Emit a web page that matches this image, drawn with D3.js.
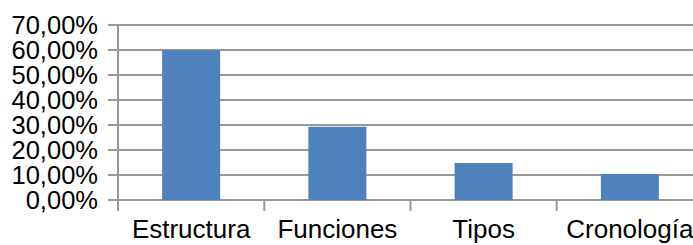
<!DOCTYPE html>
<html><head><meta charset="utf-8">
<script src="https://cdn.jsdelivr.net/npm/d3@7"></script>
<style>html,body{margin:0;padding:0;background:#fff;}svg{display:block;}</style>
</head><body>
<svg id="c" width="693" height="245"></svg>
<script>
const categories = ["Estructura", "Funciones", "Tipos", "Cronología"];
const values = [0.60, 0.293, 0.148, 0.104];
const yTicks = [0, 0.1, 0.2, 0.3, 0.4, 0.5, 0.6, 0.7];

(function () {
const svg = d3.select("#c");
const mLeft = 118, mRight = 703, mTop = 25, mBottom = 200;
const font = "'Liberation Sans', Arial, sans-serif";
const grid = "#989898";

const xb = d3.scaleBand().domain(categories).range([mLeft, mRight]);
const y = d3.scaleLinear().domain([0, 0.7]).range([mBottom, mTop]);

const fmt = v => d3.format(".2f")(v * 100).replace(".", ",") + "%";

// gridlines with left tick marks
svg.append("g").selectAll("line").data(yTicks).join("line")
  .attr("x1", mLeft - 10).attr("x2", 693)
  .attr("y1", d => y(d)).attr("y2", d => y(d))
  .attr("stroke", grid).attr("stroke-width", 2);

// y axis line
svg.append("line").attr("x1", mLeft).attr("x2", mLeft)
  .attr("y1", mTop).attr("y2", mBottom + 11)
  .attr("stroke", grid).attr("stroke-width", 2);

// category tick marks
svg.append("g").selectAll("line").data(categories.slice(1)).join("line")
  .attr("x1", d => xb(d)).attr("x2", d => xb(d))
  .attr("y1", mBottom).attr("y2", mBottom + 11)
  .attr("stroke", grid).attr("stroke-width", 2);

// bars
svg.append("g").selectAll("rect").data(values).join("rect")
  .attr("x", (d, i) => xb(categories[i]) + xb.bandwidth() / 2 - 29)
  .attr("width", 58)
  .attr("y", d => y(d))
  .attr("height", d => y(0) - y(d))
  .attr("fill", "#4f81bd");

// y tick labels
svg.append("g").selectAll("text").data(yTicks).join("text")
  .attr("x", 98).attr("y", d => y(d)).attr("dy", "0.36em")
  .attr("text-anchor", "end")
  .attr("font-family", font).attr("font-size", 25.5).attr("fill", "#000")
  .text(fmt);

// category labels
svg.append("g").selectAll("text").data(categories).join("text")
  .attr("x", d => xb(d) + xb.bandwidth() / 2).attr("y", 238)
  .attr("text-anchor", "middle")
  .attr("font-family", font).attr("font-size", 26).attr("fill", "#000")
  .text(d => d);
})();
</script>
</body></html>
